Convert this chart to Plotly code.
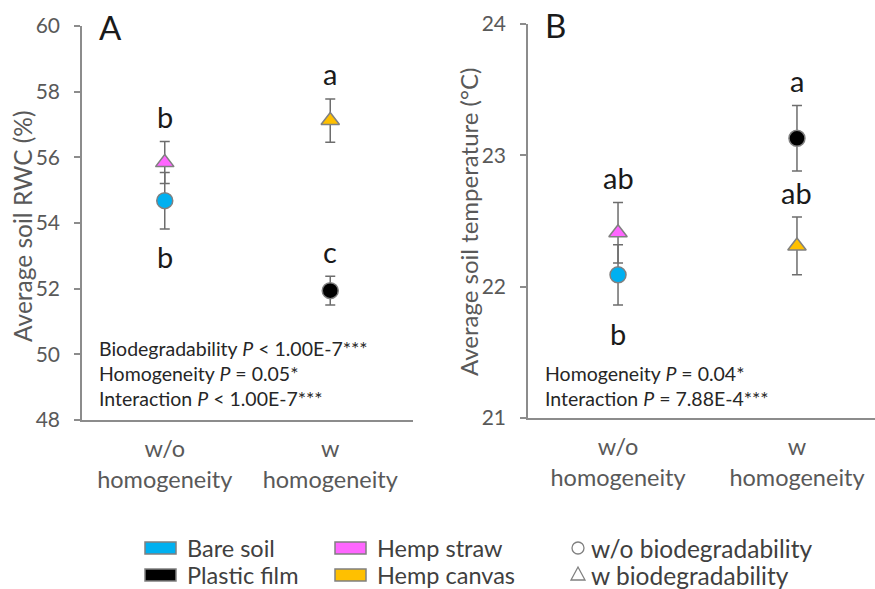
import plotly.graph_objects as go

W, H = 875, 589
FONT = "Lato"

# ---------------- data ----------------
categories = ["w/o homogeneity", "w homogeneity"]
tick_text = ["w/o<br>homogeneity", "w<br>homogeneity"]
treatments = ["Bare soil", "Plastic film", "Hemp straw", "Hemp canvas"]
treat_cat = [0, 1, 0, 1]
treat_colors = ["#00B0F0", "#000000", "#FF66FF", "#FFC000"]
treat_symbols = ["circle", "circle", "triangle-up", "triangle-up"]

rwc_mean = [54.68, 51.94, 55.84, 57.12]
rwc_err = [0.86, 0.44, 0.64, 0.66]
rwc_letters = ["b", "c", "b", "a"]
rwc_letter_side = ["below", "above", "above", "above"]

temp_mean = [22.09, 23.13, 22.41, 22.31]
temp_err = [0.23, 0.25, 0.23, 0.22]
temp_letters = ["b", "a", "ab", "ab"]
temp_letter_side = ["below", "above", "above", "above"]

rwc_title = "Average soil RWC (%)"
temp_title = "Average soil temperature (°C)"

rwc_stats = ["Biodegradability <i>P</i> < 1.00E-7***",
             "Homogeneity <i>P</i> = 0.05*",
             "Interaction <i>P</i> < 1.00E-7***"]
temp_stats = ["Homogeneity <i>P</i> = 0.04*",
              "Interaction <i>P</i> = 7.88E-4***"]

legend_shape_labels = ["w/o biodegradability", "w biodegradability"]

# ---------------- helpers ----------------
def px(x):
    return x / W

def py(y):
    return 1 - y / H

fig = go.Figure()

panels = [
    dict(x="x", y="y", means=rwc_mean, errs=rwc_err, letters=rwc_letters, sides=rwc_letter_side),
    dict(x="x2", y="y2", means=temp_mean, errs=temp_err, letters=temp_letters, sides=temp_letter_side),
]

annotations = []
for p in panels:
    for i in range(len(treatments)):
        fig.add_trace(go.Scatter(
            x=[treat_cat[i]], y=[p["means"][i]], xaxis=p["x"], yaxis=p["y"],
            mode="markers", showlegend=False, name=treatments[i],
            marker=dict(color=treat_colors[i], symbol=treat_symbols[i], size=16,
                        line=dict(color="#808080", width=1.5)),
            error_y=dict(type="data", array=[p["errs"][i]], color="#6d6d6d",
                         thickness=1.5, width=5),
        ))
        above = p["sides"][i] == "above"
        yv = p["means"][i] + (p["errs"][i] if above else -p["errs"][i])
        annotations.append(dict(
            x=treat_cat[i], y=yv, xref=p["x"], yref=p["y"], text=p["letters"][i],
            showarrow=False, yanchor="middle", yshift=(25 if above else -28),
            font=dict(family=FONT, size=29, color="#1a1a1a")))

# axis titles
annotations.append(dict(x=px(22), y=py(226), xref="paper", yref="paper", text=rwc_title,
                        showarrow=False, textangle=-90, xanchor="center", yanchor="middle",
                        font=dict(family=FONT, size=24.5, color="#595959")))
annotations.append(dict(x=px(468), y=py(222), xref="paper", yref="paper", text=temp_title,
                        showarrow=False, textangle=-90, xanchor="center", yanchor="middle",
                        font=dict(family=FONT, size=24, color="#595959")))

# panel labels
annotations.append(dict(x=px(97), y=py(27), xref="paper", yref="paper", text="A",
                        showarrow=False, xanchor="left", yanchor="middle",
                        font=dict(family=FONT, size=33, color="#1a1a1a")))
annotations.append(dict(x=px(543), y=py(25), xref="paper", yref="paper", text="B",
                        showarrow=False, xanchor="left", yanchor="middle",
                        font=dict(family=FONT, size=33, color="#1a1a1a")))

# stats text
for k, t in enumerate(rwc_stats):
    annotations.append(dict(x=px(97), y=py(348 + 25 * k), xref="paper", yref="paper", text=t,
                            showarrow=False, xanchor="left", yanchor="middle",
                            font=dict(family=FONT, size=19.5, color="#262626")))
for k, t in enumerate(temp_stats):
    annotations.append(dict(x=px(543), y=py(373 + 25 * k), xref="paper", yref="paper", text=t,
                            showarrow=False, xanchor="left", yanchor="middle",
                            font=dict(family=FONT, size=19.5, color="#262626")))

# legend (manual)
shapes = []
leg_rows = [548, 575]
leg_cols = [(145, 185), (335, 375)]
for i, name in enumerate(treatments):
    col, row = divmod(i, 2)
    x0, tx = leg_cols[col]
    yc = leg_rows[row]
    shapes.append(dict(type="rect", xref="paper", yref="paper",
                       x0=px(x0), x1=px(x0 + 31), y0=py(yc - 6), y1=py(yc + 6),
                       fillcolor=treat_colors[i], line=dict(color="#808080", width=1.5)))
    annotations.append(dict(x=px(tx), y=py(yc), xref="paper", yref="paper", text=name,
                            showarrow=False, xanchor="left", yanchor="middle",
                            font=dict(family=FONT, size=23.5, color="#404040")))
# circle / triangle symbols
shapes.append(dict(type="circle", xref="paper", yref="paper",
                   x0=px(572), x1=px(584), y0=py(542), y1=py(554),
                   line=dict(color="#808080", width=1.3)))
shapes.append(dict(type="path", xref="paper", yref="paper",
                   path=f"M {px(571)},{py(580)} L {px(585)},{py(580)} L {px(578)},{py(567)} Z",
                   line=dict(color="#808080", width=1.3)))
for k, t in enumerate(legend_shape_labels):
    annotations.append(dict(x=px(589), y=py(leg_rows[k]), xref="paper", yref="paper", text=t,
                            showarrow=False, xanchor="left", yanchor="middle",
                            font=dict(family=FONT, size=24.5, color="#404040")))

line_common = dict(showgrid=False, zeroline=False, showline=True, linecolor="#8c8c8c",
                   linewidth=1.5, automargin=False)
xtickfont = dict(family=FONT, size=23.5, color="#595959")
ytickfont = dict(family=FONT, size=21, color="#595959")

fig.update_layout(
    width=W, height=H, margin=dict(l=0, r=0, t=0, b=0),
    plot_bgcolor="white", paper_bgcolor="white",
    annotations=annotations, shapes=shapes,
    xaxis=dict(domain=[px(82), px(413)], range=[-0.5, 1.5], tickvals=[0, 1], ticktext=tick_text,
               ticks="", anchor="y", tickfont=xtickfont, ticklabelstandoff=7, **line_common),
    yaxis=dict(domain=[py(420), py(26)], range=[48, 60], dtick=2, ticks="outside",
               ticklen=6, tickcolor="#8c8c8c", tickwidth=1.5, anchor="x",
               tickfont=ytickfont, ticklabelstandoff=10, **line_common),
    xaxis2=dict(domain=[px(528), 1.0], range=[-0.503, 1.436], tickvals=[0, 1], ticktext=tick_text,
                ticks="", anchor="y2", tickfont=xtickfont, ticklabelstandoff=7, **line_common),
    yaxis2=dict(domain=[py(418), py(24)], range=[21, 24], dtick=1, ticks="outside",
                ticklen=6, tickcolor="#8c8c8c", tickwidth=1.5, anchor="x2",
                tickfont=ytickfont, ticklabelstandoff=10, **line_common),
)

fig.write_html("out.html")
